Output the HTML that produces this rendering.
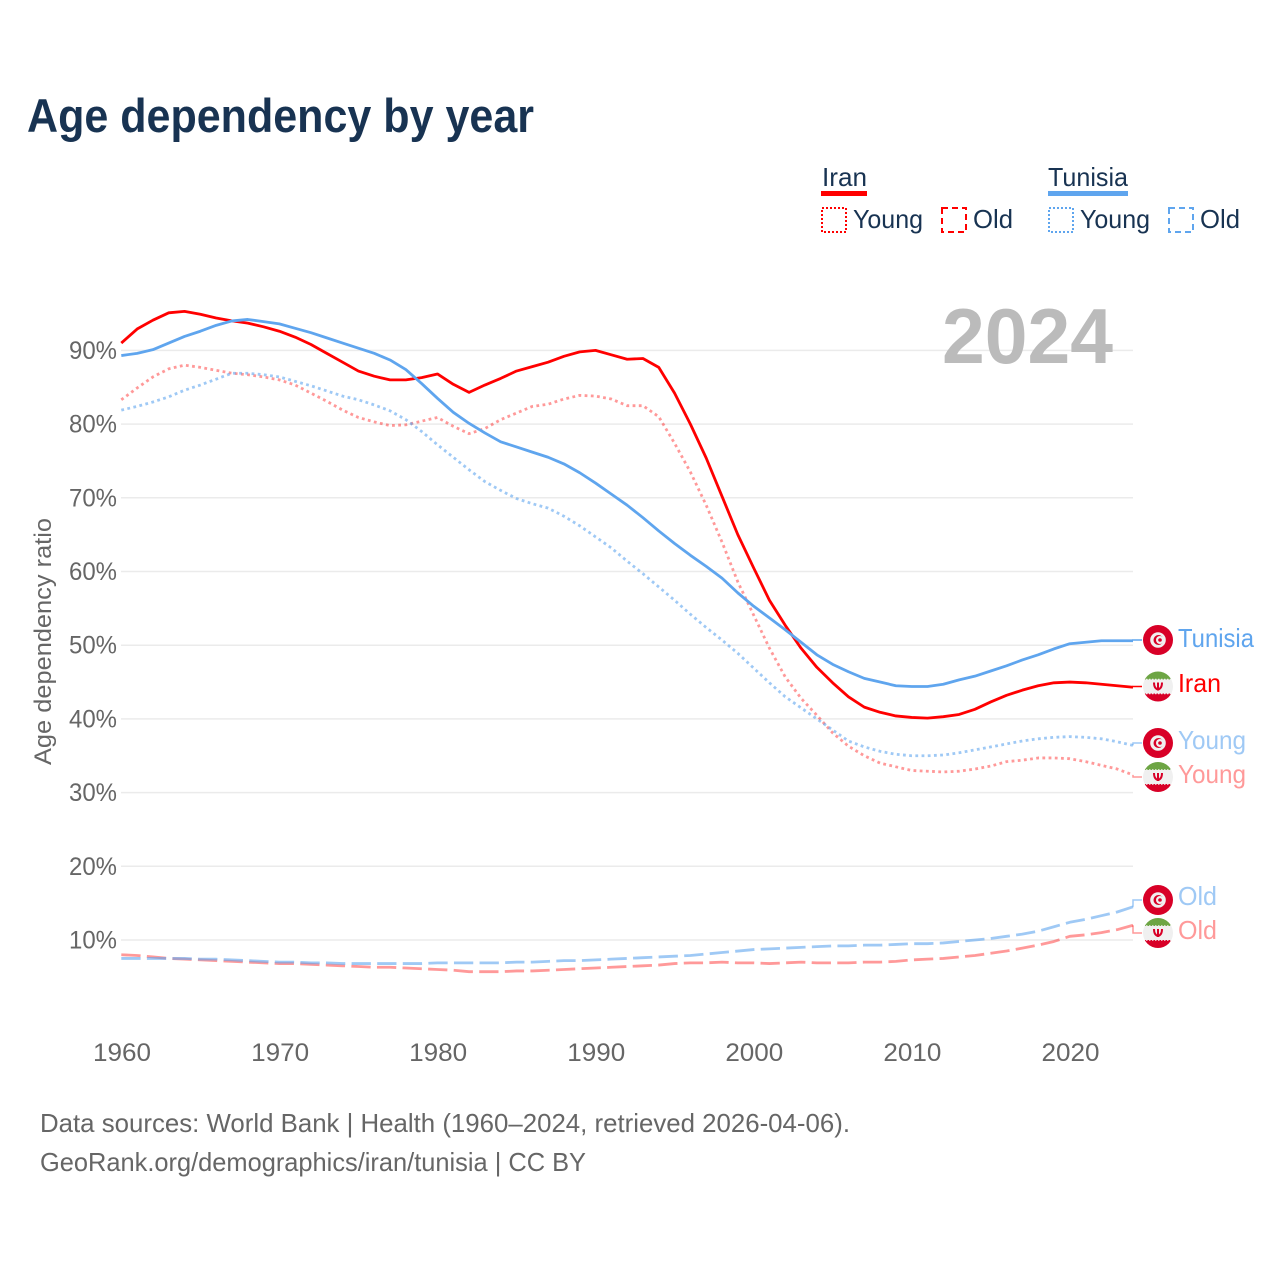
<!DOCTYPE html>
<html lang="en">
<head>
<meta charset="utf-8">
<title>Age dependency by year</title>
<style>
html,body{margin:0;padding:0;background:#fff;}
svg{display:block;}
text{font-family:"Liberation Sans",sans-serif;}
</style>
</head>
<body>
<svg id="chart" xmlns="http://www.w3.org/2000/svg" width="1280" height="1280" viewBox="0 0 1280 1280">
  <rect x="0" y="0" width="1280" height="1280" fill="#ffffff"/>
  <text x="27" y="132" font-size="47" font-weight="700" fill="#183352" textLength="507" lengthAdjust="spacingAndGlyphs">Age dependency by year</text>

  <g>
    <text x="822" y="186" font-size="26" fill="#183352" textLength="45" lengthAdjust="spacingAndGlyphs">Iran</text>
    <rect x="821" y="191" width="46" height="5" fill="#ff0000"/>
    <rect x="822" y="208" width="24" height="24" fill="none" stroke="#ff0000" stroke-width="2" stroke-dasharray="2 2"/>
    <text x="853" y="228" font-size="26" fill="#183352" textLength="70" lengthAdjust="spacingAndGlyphs">Young</text>
    <rect x="942" y="208" width="24" height="24" fill="none" stroke="#ff0000" stroke-width="2" stroke-dasharray="6 4"/>
    <text x="973" y="228" font-size="26" fill="#183352" textLength="40" lengthAdjust="spacingAndGlyphs">Old</text>

    <text x="1048" y="186" font-size="26" fill="#183352" textLength="80" lengthAdjust="spacingAndGlyphs">Tunisia</text>
    <rect x="1048" y="191" width="80" height="5" fill="#5fa5ee"/>
    <rect x="1049" y="208" width="24" height="24" fill="none" stroke="#5fa5ee" stroke-width="2" stroke-dasharray="2 2"/>
    <text x="1080" y="228" font-size="26" fill="#183352" textLength="70" lengthAdjust="spacingAndGlyphs">Young</text>
    <rect x="1169" y="208" width="24" height="24" fill="none" stroke="#5fa5ee" stroke-width="2" stroke-dasharray="6 4"/>
    <text x="1200" y="228" font-size="26" fill="#183352" textLength="40" lengthAdjust="spacingAndGlyphs">Old</text>
  </g>

  <g id="grid"></g>
  <text x="942" y="363" font-size="78" font-weight="700" fill="#bbbbbb" textLength="171" lengthAdjust="spacingAndGlyphs">2024</text>
  <g id="yticks"></g>
  <g id="xticks"></g>
  <text transform="translate(51,765) rotate(-90)" x="0" y="0" font-size="24.5" fill="#666666" textLength="247" lengthAdjust="spacingAndGlyphs">Age dependency ratio</text>
  <g id="series"></g>
  <g id="endlabels"></g>

  <text x="40" y="1132" font-size="26" fill="#666666" textLength="810" lengthAdjust="spacingAndGlyphs">Data sources: World Bank | Health (1960–2024, retrieved 2026-04-06).</text>
  <text x="40" y="1171" font-size="26" fill="#666666" textLength="546" lengthAdjust="spacingAndGlyphs">GeoRank.org/demographics/iran/tunisia | CC BY</text>
</svg>

<script>
const startYear = 1960;
const endYear = 2024;
const yTickValues = [10, 20, 30, 40, 50, 60, 70, 80, 90];
const xTickValues = [1960, 1970, 1980, 1990, 2000, 2010, 2020];

const iranTotal = [
  91.0,92.9,94.1,95.1,95.3,94.9,94.4,94.0,93.7,93.2,
  92.6,91.8,90.8,89.6,88.4,87.2,86.5,86.0,86.0,86.3,
  86.8,85.4,84.3,85.3,86.2,87.2,87.8,88.4,89.2,89.8,
  90.0,89.4,88.8,88.9,87.7,84.2,80.0,75.4,70.2,65.0,
  60.5,56.1,52.7,49.6,47.0,44.9,43.0,41.6,40.9,40.4,
  40.2,40.1,40.3,40.6,41.3,42.3,43.2,43.9,44.5,44.9,
  45.0,44.9,44.7,44.5,44.3
];
const tunisiaTotal = [
  89.3,89.6,90.1,91.0,91.9,92.6,93.4,94.0,94.2,93.9,
  93.6,93.0,92.4,91.7,91.0,90.3,89.6,88.7,87.4,85.5,
  83.5,81.6,80.1,78.8,77.6,76.9,76.2,75.5,74.6,73.4,
  72.0,70.5,69.0,67.3,65.5,63.8,62.2,60.7,59.1,57.1,
  55.3,53.7,52.1,50.4,48.7,47.4,46.4,45.5,45.0,44.5,
  44.4,44.4,44.7,45.3,45.8,46.5,47.2,48.0,48.7,49.5,
  50.2,50.4,50.6,50.6,50.6
];
const iranYoung = [
  83.3,84.9,86.4,87.5,88.0,87.7,87.3,86.9,86.7,86.4,
  86.0,85.3,84.2,83.1,81.9,80.9,80.3,79.8,79.9,80.4,
  80.9,79.7,78.7,79.4,80.6,81.5,82.4,82.7,83.4,83.9,
  83.8,83.4,82.5,82.5,81.0,77.4,73.5,69.0,64.0,58.6,
  54.1,49.6,45.7,42.8,40.5,38.1,36.3,35.0,34.0,33.5,
  33.0,32.9,32.8,32.9,33.2,33.6,34.2,34.4,34.7,34.7,
  34.6,34.2,33.7,33.2,32.4
];
const tunisiaYoung = [
  81.9,82.4,83.0,83.7,84.6,85.3,86.1,86.9,86.9,86.7,
  86.4,85.8,85.2,84.5,83.8,83.3,82.6,81.8,80.6,79.0,
  77.2,75.5,73.8,72.2,71.0,69.9,69.2,68.6,67.5,66.2,
  64.7,63.2,61.4,59.7,57.9,56.1,54.2,52.4,50.7,48.9,
  46.9,44.9,43.0,41.5,40.0,38.5,37.0,36.2,35.6,35.2,
  35.0,35.0,35.1,35.4,35.8,36.2,36.6,37.0,37.3,37.5,
  37.6,37.5,37.3,36.9,36.4
];
const iranOld = [
  8.0,7.9,7.7,7.5,7.4,7.3,7.2,7.1,7.0,6.9,
  6.8,6.8,6.7,6.6,6.5,6.4,6.3,6.3,6.2,6.1,
  6.0,5.9,5.7,5.7,5.7,5.8,5.8,5.9,6.0,6.1,
  6.2,6.3,6.4,6.5,6.6,6.8,6.9,6.9,7.0,6.9,
  6.9,6.8,6.9,7.0,6.9,6.9,6.9,7.0,7.0,7.1,
  7.3,7.4,7.5,7.7,7.9,8.2,8.5,8.9,9.3,9.8,
  10.5,10.7,11.0,11.4,12.0
];
const tunisiaOld = [
  7.5,7.5,7.5,7.5,7.5,7.4,7.4,7.3,7.2,7.1,
  7.0,7.0,6.9,6.9,6.8,6.8,6.8,6.8,6.8,6.8,
  6.9,6.9,6.9,6.9,6.9,7.0,7.0,7.1,7.2,7.2,
  7.3,7.4,7.5,7.6,7.7,7.8,7.9,8.1,8.3,8.5,
  8.7,8.8,8.9,9.0,9.1,9.2,9.2,9.3,9.3,9.4,
  9.5,9.5,9.6,9.8,10.0,10.2,10.5,10.8,11.2,11.8,
  12.4,12.8,13.3,13.8,14.5
];

const NS = 'http://www.w3.org/2000/svg';
const BLUE = '#5fa5ee';
const RED = '#ff0000';
const FLAG_RED = '#d80027';
const FLAG_GREEN = '#6da544';
const FLAG_WHITE = '#f0f0f0';

function xScale(year) { return 121.3 + (year - startYear) * (1133 - 121.3) / (endYear - startYear); }
function yScale(v) { return 940 - (v - 10) * 7.37; }

function make(tag, attrs, parent) {
  const el = document.createElementNS(NS, tag);
  for (const k in attrs) el.setAttribute(k, attrs[k]);
  parent.appendChild(el);
  return el;
}

const gridG = document.getElementById('grid');
const yG = document.getElementById('yticks');
const xG = document.getElementById('xticks');
const seriesG = document.getElementById('series');
const endG = document.getElementById('endlabels');

yTickValues.forEach(function (v) {
  const line = make('line', { x1: 121, x2: 1133, y1: yScale(v), y2: yScale(v), stroke: '#ebebeb', 'stroke-width': 1.5 }, gridG);
  
  
  const t = make('text', { x: 69, y: yScale(v) + 8.5, 'font-size': 25, fill: '#666666', textLength: 48, lengthAdjust: 'spacingAndGlyphs' }, yG);
  t.textContent = v + '%';
  
  
});

xTickValues.forEach(function (yr) {
  const t = make('text', { x: xScale(yr) - 28.3, y: 1061, 'font-size': 25, fill: '#666666', textLength: 58, lengthAdjust: 'spacingAndGlyphs' }, xG);
  t.textContent = String(yr);
  
  
});

function drawSeries(values, color, opacity, dash, width, name) {
  const d = values.map(function (v, i) {
    return (i ? 'L' : 'M') + xScale(startYear + i).toFixed(2) + ',' + yScale(v).toFixed(2);
  }).join(' ');
  const p = make('path', { d: d, fill: 'none', stroke: color, 'stroke-opacity': opacity, 'stroke-width': width, 'stroke-linejoin': 'round' }, seriesG);
  if (dash) p.setAttribute('stroke-dasharray', dash);
  
  
}

drawSeries(iranOld, RED, 0.4, '19.3 6.3', 2.8, 'line-iran-old');
drawSeries(tunisiaOld, BLUE, 0.6, '19.3 6.3', 2.8, 'line-tunisia-old');
drawSeries(iranYoung, RED, 0.4, '2.8 3.4', 2.8, 'line-iran-young');
drawSeries(tunisiaYoung, BLUE, 0.6, '2.8 3.4', 2.8, 'line-tunisia-young');
drawSeries(iranTotal, RED, 1, '', 2.8, 'line-iran-total');
drawSeries(tunisiaTotal, BLUE, 1, '', 2.8, 'line-tunisia-total');

function drawFlag(kind, cy, parent, id) {
  const g = make('g', {}, parent);
  
  
  const cx = 1158;
  if (kind === 'tunisia') {
    make('circle', { cx: cx, cy: cy, r: 15, fill: FLAG_RED }, g);
    make('circle', { cx: cx, cy: cy, r: 7.8, fill: FLAG_WHITE }, g);
    make('circle', { cx: cx + 0.5, cy: cy, r: 5, fill: FLAG_RED }, g);
    make('circle', { cx: cx + 2, cy: cy, r: 4, fill: FLAG_WHITE }, g);
    make('circle', { cx: cx + 2, cy: cy, r: 1.8, fill: FLAG_RED }, g);
  } else {
    const clip = make('clipPath', { id: id }, g);
    make('circle', { cx: cx, cy: cy, r: 15 }, clip);
    const inner = make('g', { 'clip-path': 'url(#' + id + ')' }, g);
    make('rect', { x: cx - 15, y: cy - 15, width: 30, height: 8, fill: FLAG_GREEN }, inner);
    make('rect', { x: cx - 15, y: cy - 7, width: 30, height: 14, fill: FLAG_WHITE }, inner);
    make('rect', { x: cx - 15, y: cy + 7, width: 30, height: 8, fill: FLAG_RED }, inner);
    make('line', { x1: cx - 15, x2: cx + 15, y1: cy - 7, y2: cy - 7, stroke: FLAG_WHITE, 'stroke-width': 1.5, 'stroke-dasharray': '1.5 1.5' }, inner);
    make('line', { x1: cx - 15, x2: cx + 15, y1: cy + 7, y2: cy + 7, stroke: FLAG_WHITE, 'stroke-width': 1.5, 'stroke-dasharray': '1.5 1.5' }, inner);
    make('rect', { x: cx - 1, y: cy - 4, width: 2, height: 8, fill: FLAG_RED }, inner);
    make('path', { d: 'M' + (cx - 4) + ',' + (cy - 4) + ' q0,6 4,7 q4,-1 4,-7', fill: 'none', stroke: FLAG_RED, 'stroke-width': 2 }, inner);
  }
}

function drawEnd(values, color, opacity, kind, labelCy, textY, label, labelWidth, id) {
  const last = values[values.length - 1];
  const path = make('path', {
    d: 'M1133,' + yScale(last).toFixed(2) + ' V' + labelCy + ' H1142',
    fill: 'none', stroke: color, 'stroke-opacity': opacity, 'stroke-width': 1.5
  }, endG);
  
  
  drawFlag(kind, labelCy, endG, id);
  const t = make('text', { x: 1178, y: textY, 'font-size': 26, fill: color, 'fill-opacity': opacity, textLength: labelWidth, lengthAdjust: 'spacingAndGlyphs' }, endG);
  t.textContent = label;
  
  
}

drawEnd(tunisiaTotal, BLUE, 1, 'tunisia', 640, 647, 'Tunisia', 76, 'c1');
drawEnd(iranTotal, RED, 1, 'iran', 686.5, 692, 'Iran', 43, 'c2');
drawEnd(tunisiaYoung, BLUE, 0.6, 'tunisia', 743, 749, 'Young', 68, 'c3');
drawEnd(iranYoung, RED, 0.4, 'iran', 777, 783, 'Young', 68, 'c4');
drawEnd(tunisiaOld, BLUE, 0.6, 'tunisia', 900, 905, 'Old', 39, 'c5');
drawEnd(iranOld, RED, 0.4, 'iran', 933, 939, 'Old', 39, 'c6');
</script>
</body>
</html>
